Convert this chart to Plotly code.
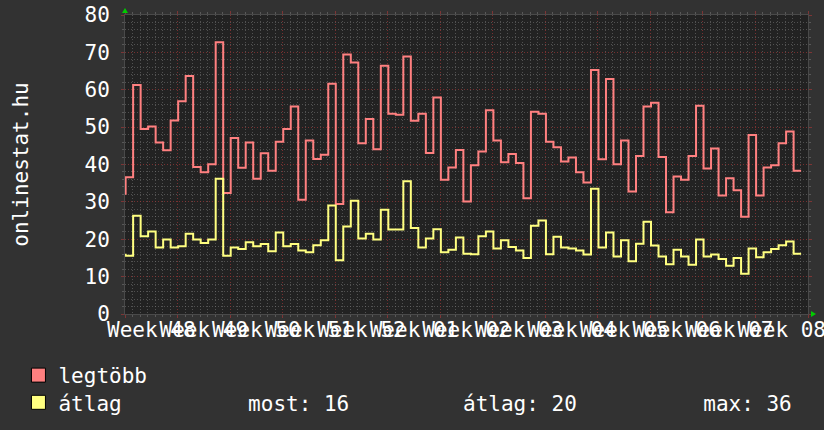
import plotly.graph_objects as go
import pandas as pd

# Daily values (first entry = partial day at the very left edge)
legtobb = [
    31.9,
    36.6, 61.3, 49.5, 50.2, 45.9, 43.8, 51.8, 56.9, 63.7, 39.3, 37.9, 40.1, 72.7, 32.4, 47.1, 39.1, 45.9, 36.2,
    43.0, 38.3, 46.1, 49.5, 55.5, 30.6, 46.4, 41.5, 42.6, 61.6, 29.4, 69.4, 67.3, 45.7, 52.2, 44.1, 66.4, 53.6,
    53.3, 68.9, 51.7, 53.6, 43.1, 57.9, 35.9, 39.2, 43.9, 30.1, 39.8, 43.5, 54.5, 46.4, 40.6, 42.8, 40.4, 31.0,
    54.1, 53.6, 46.1, 44.6, 40.8, 41.9, 37.9, 35.2, 65.3, 41.4, 62.9, 40.1, 46.4, 32.8, 42.3, 55.5, 56.5, 42.0,
    27.2, 36.8, 35.9, 42.3, 55.7, 38.9, 44.3, 31.7, 36.3, 33.1, 26.0, 47.9, 31.7, 39.2, 39.8, 45.7, 48.8, 38.3,
]
atlag = [
    16.1,
    15.6, 26.3, 20.8, 22.1, 17.8, 19.9, 17.8, 18.1, 21.5, 19.9, 19.0, 19.9, 36.2, 15.6, 17.8, 17.4, 19.2, 18.1,
    18.7, 16.8, 21.8, 18.1, 18.7, 17.0, 16.5, 18.4, 19.7, 29.0, 14.4, 23.4, 30.3, 20.2, 21.5, 19.9, 27.9, 22.6,
    22.6, 35.5, 23.0, 17.8, 20.2, 22.7, 16.5, 17.2, 20.5, 16.1, 16.0, 20.8, 22.1, 17.5, 19.7, 17.9, 17.0, 15.0,
    23.6, 25.0, 16.0, 20.7, 17.8, 17.5, 17.0, 15.9, 33.5, 17.8, 21.8, 15.4, 19.7, 14.1, 18.8, 24.7, 18.3, 15.4,
    13.3, 17.2, 15.4, 13.2, 19.9, 15.4, 15.9, 14.7, 12.9, 15.0, 10.8, 17.5, 15.2, 16.5, 17.4, 18.4, 19.4, 16.1,
]
series_names = ["legtöbb", "átlag"]
gprint_labels = ["most: 16", "átlag: 20", "max: 36"]
y_title = "onlinestat.hu"

# timestamps of the end of each daily step
day_ends = pd.date_range("2007-11-26 02:00", periods=len(legtobb), freq="D")
x_start, x_end = "2007-11-26", "2008-02-25"

RED = "#ff8080"
YEL = "#ffff80"
FONT = "DejaVu Sans Mono"
MGRID = "rgba(150,55,55,0.75)"
GRID = "rgba(120,120,120,0.55)"
DAY = 86400000

fig = go.Figure()
fig.add_trace(go.Scatter(x=day_ends, y=legtobb, mode="lines",
                         line=dict(color=RED, width=2, shape="vh"),
                         showlegend=False, hoverinfo="skip"))
fig.add_trace(go.Scatter(x=day_ends, y=atlag, mode="lines",
                         line=dict(color=YEL, width=2, shape="vh"),
                         showlegend=False, hoverinfo="skip"))

nb = "\u00a0"
legend_text2 = series_names[1] + nb * 10 + gprint_labels[0] + nb * 9 + gprint_labels[1] + nb * 10 + gprint_labels[2]
for name, col, lg in [(series_names[0], RED, "legend"), (legend_text2, YEL, "legend2")]:
    fig.add_trace(go.Scatter(x=[day_ends[0]], y=[None], mode="markers", name=name, legend=lg,
                             marker=dict(symbol="square", size=14, color=col,
                                         line=dict(color="black", width=1)),
                             hoverinfo="skip"))

leg_common = dict(xanchor="left", yanchor="top", bgcolor="rgba(0,0,0,0)",
                  font=dict(family=FONT, size=21, color="white"),
                  itemclick=False, itemdoubleclick=False)

fig.update_layout(
    width=824, height=430,
    margin=dict(l=125, r=16, t=15, b=116, autoexpand=False),
    paper_bgcolor="#323232",
    plot_bgcolor="#222222",
    font=dict(family=FONT, size=21, color="white"),
    showlegend=True,
    legend=dict(x=-0.156, y=-0.137, **leg_common),
    legend2=dict(x=-0.156, y=-0.228, **leg_common),
    xaxis=dict(type="date", range=[x_start, x_end], tick0=x_start, dtick=7 * DAY,
               tickformat="Week %V", ticklabelmode="period", tickangle=0,
               ticklabeloverflow="allow", ticklabelstandoff=-6,
               showgrid=True, gridcolor=MGRID, griddash="1px,2px", gridwidth=1,
               ticks="outside", ticklen=3, tickcolor=MGRID,
               showline=True, linecolor="#4a4a4a", linewidth=1, mirror="ticks",
               zeroline=False,
               tickfont=dict(family=FONT, size=21, color="white"),
               minor=dict(dtick=DAY, tick0=x_start, showgrid=True, gridcolor=GRID,
                          griddash="1px,2px", ticks="outside", ticklen=2, tickcolor=GRID)),
    yaxis=dict(range=[0, 80], tick0=0, dtick=10,
               showgrid=True, gridcolor=MGRID, griddash="1px,2px", gridwidth=1,
               ticks="outside", ticklen=3, tickcolor=MGRID,
               showline=True, linecolor="#4a4a4a", linewidth=1, mirror="ticks",
               zeroline=False, ticklabelstandoff=7,
               tickfont=dict(family=FONT, size=21, color="white"),
               title=dict(text=y_title, font=dict(family=FONT, size=21, color="white"), standoff=50),
               minor=dict(dtick=2, showgrid=True, gridcolor=GRID, griddash="1px,2px",
                          ticks="outside", ticklen=2, tickcolor=GRID)),
    shapes=[
        dict(type="path", xref="paper", yref="paper", xsizemode="pixel", ysizemode="pixel",
             xanchor=0, yanchor=1, path="M -3,2 L 3,2 L 0,7 Z",
             fillcolor="#00cc00", line=dict(width=0), layer="above"),
        dict(type="path", xref="paper", yref="paper", xsizemode="pixel", ysizemode="pixel",
             xanchor=1, yanchor=0, path="M 3,-3 L 3,3 L 8,0 Z",
             fillcolor="#00cc00", line=dict(width=0), layer="above"),
    ],
)

fig.write_html("out.html", config={"displayModeBar": False},
               post_script="document.body.style.margin='0';document.body.style.background='#323232';")
